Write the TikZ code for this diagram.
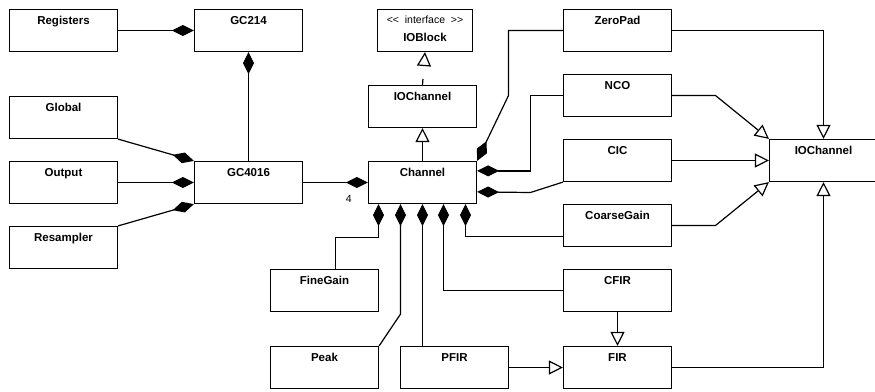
\documentclass[tikz,border=0pt]{standalone}
\usepackage{fontspec}
\setmainfont{Liberation Sans}
\usetikzlibrary{arrows.meta,calc}
\tikzset{
  box/.style={draw, line width=1.2pt, minimum width=108pt, minimum height=42pt, inner sep=0pt},
  ttl/.style={anchor=base, font=\fontsize{11.5}{13}\selectfont\bfseries, inner sep=0pt},
  stereo/.style={anchor=base, font=\fontsize{10.5}{12}\selectfont, inner sep=0pt},
  comp/.style={draw, line width=1.2pt, {Diamond[length=22pt,width=11pt]}-},
  gen/.style={draw, line width=1.2pt, -{Triangle[length=14pt,width=14pt,fill=white]}},
}
\begin{document}
\begin{tikzpicture}[x=1pt,y=-1pt]
\useasboundingbox (0,0) rectangle (875,391);
% boxes
\node[box] (reg) at (63.5,30.5) {};
\node[box] (gc214) at (248.5,30.5) {};
\node[box] (global) at (63.5,117.5) {};
\node[box] (output) at (63.5,182.5) {};
\node[box] (resamp) at (63.5,247.5) {};
\node[box] (gc4016) at (248.5,182.5) {};
\node[box] (channel) at (422.5,182.5) {};
\node[box, minimum width=95pt] (ioblock) at (425,30.5) {};
\node[box] (iochm) at (422.5,106.5) {};
\node[box] (zeropad) at (617.5,30.5) {};
\node[box] (nco) at (617.5,95.5) {};
\node[box] (cic) at (617.5,160.5) {};
\node[box] (iochr) at (823.5,160.5) {};
\node[box] (coarse) at (617.5,225.5) {};
\node[box] (cfir) at (617.5,290.5) {};
\node[box] (fir) at (617.5,367.5) {};
\node[box] (fine) at (324.5,290.5) {};
\node[box] (peak) at (324.5,367.5) {};
\node[box] (pfir) at (454.5,367.5) {};
% titles
\node[ttl] at ([yshift=-16pt]reg.north) {Registers};
\node[ttl] at ([yshift=-16pt]gc214.north) {GC214};
\node[ttl] at ([yshift=-16pt]global.north) {Global};
\node[ttl] at ([yshift=-16pt]output.north) {Output};
\node[ttl] at ([yshift=-16pt]resamp.north) {Resampler};
\node[ttl] at ([yshift=-16pt]gc4016.north) {GC4016};
\node[ttl] at ([yshift=-16pt]channel.north) {Channel};
\node[stereo] at ([yshift=-14.5pt]ioblock.north) {<{}<\ \ interface\ \ >{}>};
\node[ttl] at ([yshift=-32.5pt]ioblock.north) {IOBlock};
\node[ttl] at ([yshift=-16pt]iochm.north) {IOChannel};
\node[ttl] at ([yshift=-16pt]zeropad.north) {ZeroPad};
\node[ttl] at ([yshift=-16pt]nco.north) {NCO};
\node[ttl] at ([yshift=-16pt]cic.north) {CIC};
\node[ttl] at ([yshift=-16pt]iochr.north) {IOChannel};
\node[ttl] at ([yshift=-16pt]coarse.north) {CoarseGain};
\node[ttl] at ([yshift=-16pt]cfir.north) {CFIR};
\node[ttl] at ([yshift=-16pt]fir.north) {FIR};
\node[ttl] at ([yshift=-16pt]fine.north) {FineGain};
\node[ttl] at ([yshift=-16pt]peak.north) {Peak};
\node[ttl] at ([yshift=-16pt]pfir.north) {PFIR};
% compositions on the left
\draw[comp] (gc214.west) -- (reg.east);
\draw[comp] (gc214.south) -- (gc4016.north);
\draw[comp] (gc4016.north west) -- (global.south east);
\draw[comp] (gc4016.west) -- (output.east);
\draw[comp] (gc4016.south west) -- (resamp.north east);
\draw[comp] (channel.west) -- (gc4016.east);
\node[font=\fontsize{10.5}{12}\selectfont, inner sep=0pt] (four) at ([xshift=-19pt,yshift=-16pt]channel.west) {4};
% generalisations in the middle
\draw[gen] (channel.north) -- (iochm.south);
\draw[gen, dash pattern=on 6pt off 14pt] (iochm.north) -- (ioblock.south);
% channel right side
\draw[comp] (channel.north east) -- (508.5,95.5) |- (zeropad.west);
\draw[comp] ([yshift=-10pt]channel.north east) -| (530.5,95.5) -- (nco.west);
\draw[comp] ([yshift=-31pt]channel.north east) -- (530.5,192.5) -- (cic.south west);
% channel bottom side
\draw[comp] ([xshift=43pt]channel.south) |- ([yshift=-11pt]coarse.west);
\draw[comp] ([xshift=21pt]channel.south) |- (cfir.west);
\draw[comp] (channel.south) -- (channel.south |- pfir.north);
\draw[comp] ([xshift=-22pt]channel.south) -- ++(0,110) -- (peak.north east);
\draw[comp] ([xshift=-44pt]channel.south) -- ++(0,33) -| ([xshift=11pt]fine.north);
% generalisations to IOChannel
\draw[gen] (zeropad.east) -| (iochr.north);
\draw[gen] (nco.east) -- (715.5,95.5) -- (iochr.north west);
\draw[gen] (cic.east) -- (iochr.west);
\draw[gen] (coarse.east) -- (715.5,225.5) -- (iochr.south west);
\draw[gen] (fir.east) -| (iochr.south);
\draw[gen] (cfir.south) -- (fir.north);
\draw[gen] (pfir.east) -- (fir.west);
\end{tikzpicture}
\end{document}
